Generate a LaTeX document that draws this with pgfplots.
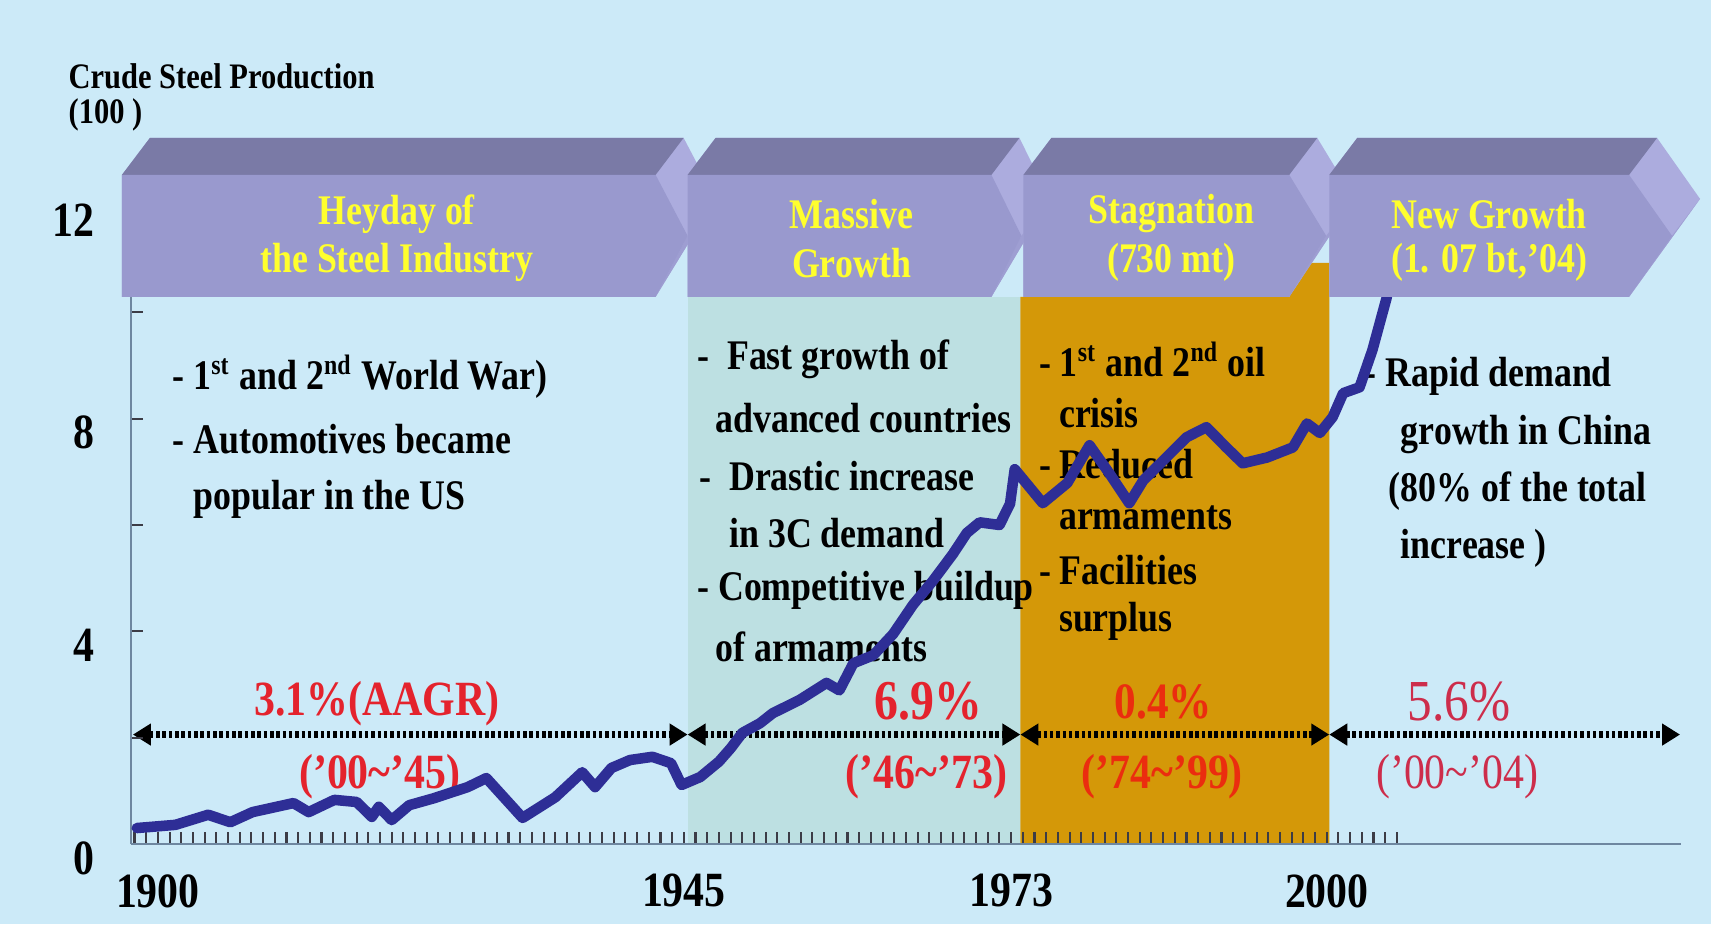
\documentclass[border=0pt]{standalone}
\usepackage{fontspec}
\setmainfont{Liberation Serif}[FakeStretch=0.85]
\usepackage{pgfplots}
\pgfplotsset{compat=1.18}
\usetikzlibrary{arrows.meta}
\definecolor{bgc}{RGB}{204,234,248}
\definecolor{tealc}{RGB}{189,224,226}
\definecolor{orangec}{RGB}{212,152,8}
\definecolor{frontc}{RGB}{153,153,206}
\definecolor{topc}{RGB}{122,122,166}
\definecolor{facetc}{RGB}{172,172,222}
\definecolor{facetd}{RGB}{158,158,210}
\definecolor{linec}{RGB}{46,46,150}
\definecolor{axisc}{RGB}{110,135,160}
\definecolor{tickc}{RGB}{60,60,70}
\definecolor{yelc}{RGB}{255,255,45}
\definecolor{redA}{RGB}{228,35,45}
\definecolor{redB}{RGB}{235,45,15}
\definecolor{redC}{RGB}{205,45,75}
\newcommand{\fs}[1]{\fontsize{#1}{#1}\selectfont}
\newcommand{\sst}[1]{\textsuperscript{#1}}
\newcommand{\chevbox}[3]{%
  \fill[facetc] (#1,297) -- (#1,175) -- ({#1+28},138) -- ({#2+28},138) -- ({#2+#3+28},199) -- (#2,297) -- cycle;
  \fill[facetd] ({#2+#3},236) -- ({#2+#3+28},199) -- (#2,297) -- cycle;
  \fill[topc] (#1,175) -- ({#1+28},138) -- ({#2+28},138) -- (#2,175) -- cycle;
  \fill[frontc] (#1,175) -- (#2,175) -- ({#2+#3},236) -- (#2,297) -- (#1,297) -- cycle;
}
\begin{document}
\bfseries
\begin{tikzpicture}
\path[use as bounding box] (0,0) rectangle (17.12,-9.25);
\begin{scope}[x=0.01cm,y=-0.01cm]
  \fill[bgc] (0,0) rectangle (1712,925);
  \fill[tealc] (688,297) rectangle (1021,844);
  \fill[orangec] (1021,844) -- (1021,297) -- (1290,297) -- (1290,263) -- (1330,263) -- (1330,844) -- cycle;
  % title
  \node[anchor=west,inner sep=0] at (68,76) {\fs{10.2}Crude Steel Production};
  \node[anchor=west,inner sep=0] at (68,115) {\fs{10.2}(100 )};
  \begin{scope}[every node/.style={anchor=west,inner sep=0,font=\fs{12}}]
  % block 1
  \node at (172,377) {- 1\sst{st} and 2\sst{nd} World War)};
  \node at (172,439) {- Automotives became};
  \node at (193,500) {popular in the US};
  % block 2
  \node at (697,360) {-\ \ Fast growth of};
  \node at (715,418) {advanced countries};
  \node at (699,476) {-\ \ Drastic increase};
  \node at (729,533) {in 3C demand};
  \node at (697,591) {- Competitive buildup};
  \node at (715,647) {of armaments};
  % block 3
  \node at (1039,360) {- 1\sst{st} and 2\sst{nd} oil};
  \node at (1059,413) {crisis};
  \node at (1039,464) {- Reduced};
  \node at (1059,518) {armaments};
  \node at (1039,570) {- Facilities};
  \node at (1059,622) {surplus};
  % block 4
  \node at (1365,377) {- Rapid demand};
  \node at (1401,435) {growth in China};
  \node at (1389,491) {(80\% of the total};
  \node at (1401,549) {increase )};
  \end{scope}
  % arrows
  \begin{scope}[line width=1.8pt, dash pattern=on 1pt off 0.8pt, black,
      {Triangle[length=0.18cm,width=0.21cm]}-{Triangle[length=0.18cm,width=0.21cm]}]
    \draw (133,735) -- (688,735);
    \draw (688,735) -- (1021,735);
    \draw (1021,735) -- (1330,735);
    \draw (1330,735) -- (1681,735);
  \end{scope}
  % growth labels
  \node[inner sep=0,text=redA] at (377,704) {\fs{14}3.1\%(AAGR)};
  \node[inner sep=0,text=redA] at (380,777) {\fs{14}(’00\textasciitilde’45)};
  \node[inner sep=0,text=redA] at (929,702) {\fs{16}6.9\%};
  \node[inner sep=0,text=redA] at (927,777) {\fs{14}(’46\textasciitilde’73)};
  \node[inner sep=0,text=redB] at (1164,702) {\fs{14.5}0.4\%};
  \node[inner sep=0,text=redB] at (1163,777) {\fs{14}(’74\textasciitilde’99)};
  \node[inner sep=0,text=redC] at (1460,702) {\mdseries\fs{16.5}5.6\%};
  \node[inner sep=0,text=redC] at (1458,777) {\mdseries\fs{14}(’00\textasciitilde’04)};
\end{scope}
\begin{axis}[
  at={(1.31cm,-8.44cm)}, anchor=south west,
  scale only axis, width=15.5cm, height=6.38cm,
  xmin=1897.7, xmax=2030.3, ymin=0, ymax=12,
  axis lines*=left,
  axis line style={draw=axisc, line width=0.8pt},
  xtick={1900,1945,1973,2000}, xticklabels={1900,1945,1973,2000},
  minor xtick={1898,1899,...,2006},
  ytick={0,4,8,12}, yticklabels={0,4,8,12},
  minor ytick={2,6,10},
  tick align=inside,
  major tick length=0.12cm, minor tick length=0.12cm,
  tick style={draw=tickc, line width=0.6pt},
  xticklabel style={font=\bfseries\fs{14}, yshift=-0.18cm},
  yticklabel style={font=\bfseries\fs{14}, xshift=-0.24cm, yshift=-0.14cm},
  /pgf/number format/assume math mode=true,
]
\addplot[color=linec, line width=3pt, line join=round, line cap=round] coordinates {
(1898.2,0.30) (1901.5,0.36) (1904.3,0.55) (1906.2,0.41) (1908.1,0.60) (1911.6,0.77)
(1912.9,0.60) (1915.1,0.83) (1917.0,0.79) (1918.3,0.51) (1918.9,0.70) (1920.0,0.45)
(1921.5,0.73) (1923.6,0.86) (1926.5,1.07) (1928.1,1.24) (1931.2,0.49) (1934.0,0.88)
(1936.3,1.35) (1937.4,1.07) (1938.8,1.43) (1940.4,1.58) (1942.3,1.64) (1943.9,1.52)
(1944.8,1.11) (1946.4,1.26) (1948.0,1.55) (1949.0,1.80) (1950.0,2.09) (1951.5,2.27)
(1952.6,2.46) (1954.9,2.71) (1957.2,3.03) (1958.3,2.89) (1959.5,3.40) (1961.2,3.55)
(1962.9,3.95) (1964.6,4.50) (1966.3,4.95) (1968.0,5.45) (1969.2,5.85) (1970.3,6.05)
(1972.0,6.00) (1972.9,6.40) (1973.3,7.05) (1975.7,6.41) (1977.8,6.79) (1979.7,7.50)
(1981.4,6.97) (1983.1,6.41) (1984.3,6.84) (1988.0,7.65) (1989.7,7.84) (1991.4,7.46)
(1992.8,7.16) (1994.9,7.27) (1997.1,7.46) (1998.3,7.91) (1999.4,7.73) (2000.5,8.03)
(2001.4,8.48) (2002.8,8.59) (2003.9,9.29) (2005.1,10.26) (2005.8,11.0)
};
\end{axis}
\begin{scope}[x=0.01cm,y=-0.01cm]
  \chevbox{122}{656}{32}
  \chevbox{688}{992}{30}
  \chevbox{1024}{1290}{37}
  \chevbox{1330}{1630}{43}
  \begin{scope}[every node/.style={inner sep=0,text=yelc,font=\fs{12}}]
  \node at (397,214) {Heyday of};
  \node at (397,263) {the Steel Industry};
  \node at (852,214) {Massive};
  \node at (852,263) {Growth};
  \node at (1172,214) {Stagnation};
  \node at (1172,263) {(730 mt)};
  \node at (1490,214) {New Growth};
  \node at (1490,263) {(1. 07 bt,’04)};
  \end{scope}
\end{scope}
\end{tikzpicture}
\end{document}
